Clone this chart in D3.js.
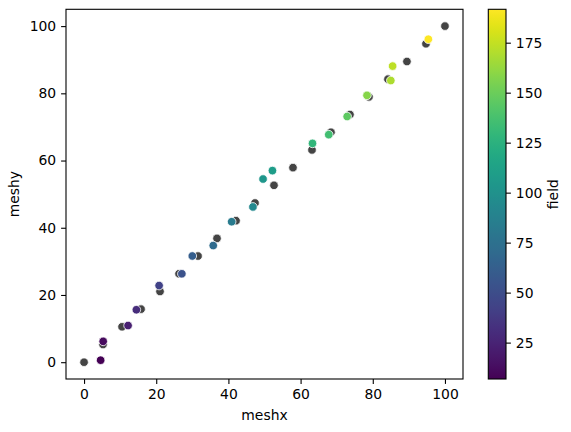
<!DOCTYPE html>
<html>
<head>
<meta charset="utf-8">
<script src="https://cdn.jsdelivr.net/npm/d3@7"></script>
<style>
  body { margin: 0; background: white; }
  text { font-family: 'DejaVu Sans', sans-serif; }
</style>
</head>
<body>
<div id="canvas"></div>
<script>
// mesh points (dark grey)
const meshX = [0, 5.26, 10.53, 15.79, 21.05, 26.32, 31.58, 36.84, 42.11, 47.37,
    52.63, 57.89, 63.16, 68.42, 73.68, 78.95, 84.21, 89.47, 94.74, 100]
const meshY = [0, 5.26, 10.53, 15.79, 21.05, 26.32, 31.58, 36.84, 42.11, 47.37,
    52.63, 57.89, 63.16, 68.42, 73.68, 78.95, 84.21, 89.47, 94.74, 100]

// sample points coloured by field
const ptX = [4.6, 5.3, 12.2, 14.5, 20.8, 27.1, 30.0, 35.8, 40.9, 46.8,
    49.6, 52.2, 63.3, 67.8, 72.9, 78.4, 85.0, 85.5, 95.4]
const ptY = [0.6, 6.2, 10.9, 15.6, 22.8, 26.3, 31.6, 34.7, 41.8, 46.2,
    54.5, 57.0, 65.1, 67.7, 73.1, 79.4, 83.8, 88.1, 96.1]
const field = [6.8, 11.5, 23.1, 30.1, 43.6, 53.4, 61.6, 70.5, 82.7, 93.0,
    104.1, 109.2, 128.4, 135.5, 146.0, 157.8, 168.8, 173.6, 191.7]

const xTicks = [0, 20, 40, 60, 80, 100]
const yTicks = [0, 20, 40, 60, 80, 100]
const cTicks = [25, 50, 75, 100, 125, 150, 175]

const width = 571
const height = 432
const margin = { top: 9.3, left: 66, right: 463, bottom: 379 }
const cbar = { left: 488.3, right: 506, top: 9.3, bottom: 379 }
const fontSize = '13.9px'

const svg = d3.select('#canvas')
    .append('svg')
        .attr('width', width)
        .attr('height', height)

const x = d3.scaleLinear().domain([-5, 105]).range([margin.left, margin.right])
const y = d3.scaleLinear().domain([-5, 105]).range([margin.bottom, margin.top])
const fmin = d3.min(field), fmax = d3.max(field)
const color = d3.scaleSequential(d3.interpolateViridis).domain([fmin, fmax])
const c = d3.scaleLinear().domain([fmin, fmax]).range([cbar.bottom, cbar.top])

function styleAxis(g) {
    g.attr('font-size', fontSize).attr('font-family', 'DejaVu Sans, sans-serif')
    g.select('.domain').remove()
    g.selectAll('.tick line').attr('stroke', '#000').attr('stroke-width', 1.1)
    g.selectAll('.tick text').attr('fill', '#000')
}

svg.append('g')
    .attr('transform', `translate(0, ${margin.bottom})`)
    .call(d3.axisBottom(x).tickValues(xTicks).tickSize(4.9).tickPadding(4.9))
    .call(styleAxis)

svg.append('g')
    .attr('transform', `translate(${margin.left}, 0)`)
    .call(d3.axisLeft(y).tickValues(yTicks).tickSize(4.9).tickPadding(4.9))
    .call(styleAxis)

// mesh
svg.append('g').selectAll('circle')
    .data(meshX)
    .enter()
    .append('circle')
    .attr('cx', d => x(d))
    .attr('cy', (d, i) => y(meshY[i]))
    .attr('r', 4.3)
    .attr('fill', '#444')
    .attr('stroke', 'white')
    .attr('stroke-width', 0.8)

// coloured points
svg.append('g').selectAll('circle')
    .data(ptX)
    .enter()
    .append('circle')
    .attr('cx', d => x(d))
    .attr('cy', (d, i) => y(ptY[i]))
    .attr('r', 4.3)
    .attr('fill', (d, i) => color(field[i]))
    .attr('stroke', 'white')
    .attr('stroke-width', 0.8)

// frame
svg.append('rect')
    .attr('x', margin.left)
    .attr('y', margin.top)
    .attr('width', margin.right - margin.left)
    .attr('height', margin.bottom - margin.top)
    .attr('fill', 'none')
    .attr('stroke', '#000')
    .attr('stroke-width', 1.1)

svg.append('text')
    .attr('x', (margin.left + margin.right) / 2)
    .attr('y', 420)
    .attr('text-anchor', 'middle')
    .attr('font-size', fontSize)
    .text('meshx')

svg.append('text')
    .attr('transform', `translate(19, ${(margin.top + margin.bottom) / 2}) rotate(-90)`)
    .attr('text-anchor', 'middle')
    .attr('font-size', fontSize)
    .text('meshy')

// colorbar
const grad = svg.append('defs').append('linearGradient')
    .attr('id', 'viridis')
    .attr('x1', 0).attr('y1', 1).attr('x2', 0).attr('y2', 0)
grad.selectAll('stop')
    .data(d3.range(0, 1.0001, 0.02))
    .enter()
    .append('stop')
    .attr('offset', d => d)
    .attr('stop-color', d => d3.interpolateViridis(d))

svg.append('rect')
    .attr('x', cbar.left)
    .attr('y', cbar.top)
    .attr('width', cbar.right - cbar.left)
    .attr('height', cbar.bottom - cbar.top)
    .attr('fill', 'url(#viridis)')
    .attr('stroke', '#000')
    .attr('stroke-width', 1.1)

svg.append('g')
    .attr('transform', `translate(${cbar.right}, 0)`)
    .call(d3.axisRight(c).tickValues(cTicks).tickSize(4.9).tickPadding(4.9))
    .call(styleAxis)

svg.append('text')
    .attr('transform', `translate(558, ${(cbar.top + cbar.bottom) / 2}) rotate(-90)`)
    .attr('text-anchor', 'middle')
    .attr('font-size', fontSize)
    .text('field')
</script>
</body>
</html>
